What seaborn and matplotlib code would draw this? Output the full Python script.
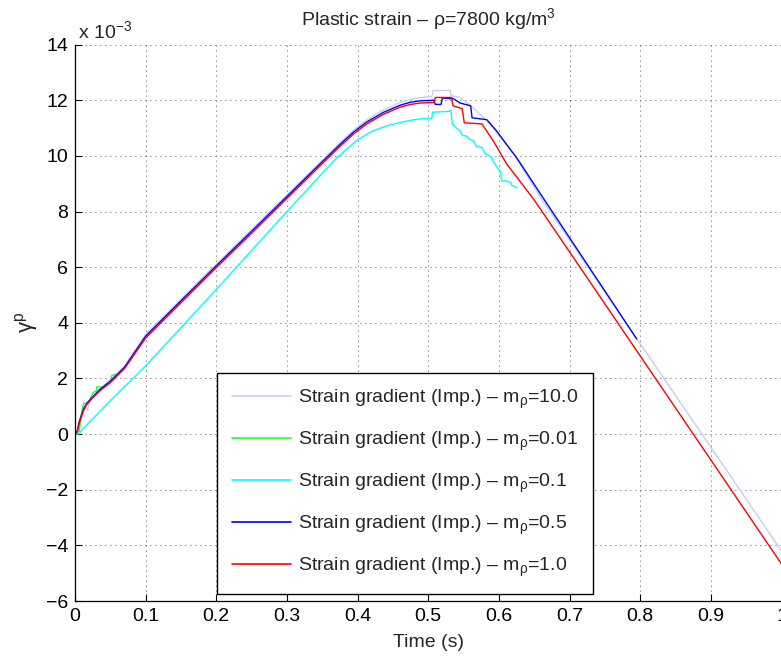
import numpy as np
import pandas as pd
import seaborn as sns
import matplotlib
matplotlib.use("Agg")
import matplotlib.pyplot as plt
from matplotlib.lines import Line2D

# Plastic strain histories (values in units of 1e-3)
t_m10 = [0.0, 0.004, 0.008, 0.013, 0.016, 0.018, 0.02, 0.03, 0.05, 0.07, 0.1, 0.15, 0.2, 0.25,
         0.3, 0.35, 0.375, 0.394, 0.413, 0.437, 0.46, 0.475, 0.489, 0.505, 0.507, 0.531, 0.532,
         0.545, 0.56, 0.583, 0.6, 0.621, 0.659, 0.8, 1.0]
g_m10 = [0.0, 0.1, 0.5, 0.85, 0.95, 0.85, 1.2, 1.5, 1.95, 2.45, 3.58, 4.85, 6.11, 7.35,
         8.6, 9.85, 10.47, 10.92, 11.3, 11.66, 11.92, 12.03, 12.1, 12.13, 12.35, 12.35, 12.17,
         12.1, 11.8, 11.27, 10.75, 10.07, 8.5, 3.25, -4.2]

t_m001 = [0.0, 0.006, 0.009, 0.012, 0.019, 0.022, 0.026, 0.030, 0.031, 0.040, 0.044, 0.050,
          0.052, 0.057]
g_m001 = [0.05, 0.1, 0.7, 1.1, 1.1, 1.3, 1.5, 1.55, 1.7, 1.68, 1.8, 1.86, 2.1, 2.15]

t_m01 = [0.0, 0.005, 0.01, 0.05, 0.1, 0.2, 0.3, 0.37, 0.385, 0.4, 0.42, 0.44, 0.46, 0.475,
         0.489, 0.505, 0.506, 0.53, 0.532, 0.534, 0.54, 0.545, 0.548, 0.555, 0.558, 0.564,
         0.568, 0.576, 0.58, 0.59, 0.592, 0.6, 0.602, 0.604, 0.61, 0.616, 0.618, 0.626]
g_m01 = [0.0, 0.0, 0.15, 1.2, 2.45, 5.2, 8.0, 9.92, 10.25, 10.58, 10.88, 11.07, 11.2, 11.28,
         11.33, 11.35, 11.57, 11.6, 11.65, 11.15, 11.0, 10.9, 10.75, 10.7, 10.6, 10.55,
         10.35, 10.3, 10.1, 9.95, 9.8, 9.5, 9.45, 9.1, 9.1, 9.05, 8.95, 8.85]

t_m05 = [0.0, 0.003, 0.006, 0.012, 0.017, 0.025, 0.035, 0.05, 0.07, 0.1, 0.15, 0.2, 0.25, 0.3,
         0.35, 0.375, 0.394, 0.413, 0.437, 0.46, 0.475, 0.489, 0.508, 0.51, 0.518, 0.52, 0.536,
         0.545, 0.56, 0.562, 0.583, 0.595, 0.626, 0.661, 0.795]
g_m05 = [0.0, 0.1, 0.45, 0.9, 1.12, 1.33, 1.6, 1.9, 2.4, 3.52, 4.79, 6.05, 7.29, 8.54,
         9.79, 10.41, 10.85, 11.22, 11.57, 11.82, 11.93, 11.98, 12.0, 11.85, 11.85, 12.08, 12.05,
         11.9, 11.8, 11.37, 11.3, 10.95, 9.9, 8.55, 3.42]

t_m1 = [0.0, 0.003, 0.006, 0.012, 0.017, 0.025, 0.035, 0.05, 0.07, 0.1, 0.15, 0.2, 0.25, 0.3,
        0.35, 0.375, 0.394, 0.413, 0.437, 0.46, 0.475, 0.489, 0.508, 0.51, 0.533, 0.535, 0.548,
        0.551, 0.576, 0.593, 0.611, 0.649, 0.7, 1.0]
g_m1 = [0.0, 0.05, 0.4, 0.85, 1.08, 1.3, 1.55, 1.85, 2.35, 3.45, 4.72, 5.98, 7.22, 8.47,
        9.72, 10.34, 10.78, 11.15, 11.5, 11.75, 11.85, 11.9, 11.92, 12.1, 12.1, 11.8, 11.7,
        11.19, 11.15, 10.5, 9.71, 8.45, 6.55, -4.67]

labels = [r"Strain gradient (Imp.) – m$_{\rho}$=10.0",
          r"Strain gradient (Imp.) – m$_{\rho}$=0.01",
          r"Strain gradient (Imp.) – m$_{\rho}$=0.1",
          r"Strain gradient (Imp.) – m$_{\rho}$=0.5",
          r"Strain gradient (Imp.) – m$_{\rho}$=1.0"]
colors = ["#C2D0F6", "#22FF22", "#00FFFF", "#0000FF", "#FF0000"]

x_ticks = [0, 0.1, 0.2, 0.3, 0.4, 0.5, 0.6, 0.7, 0.8, 0.9, 1.0]
x_ticklabels = ["0", "0.1", "0.2", "0.3", "0.4", "0.5", "0.6", "0.7", "0.8", "0.9", "1"]
y_ticks = [-6, -4, -2, 0, 2, 4, 6, 8, 10, 12, 14]

series = [(t_m10, g_m10), (t_m001, g_m001), (t_m01, g_m01), (t_m05, g_m05), (t_m1, g_m1)]
frames = []
for lab, (t, g) in zip(labels, series):
    frames.append(pd.DataFrame({"t": t, "g": g, "case": lab}))
df = pd.concat(frames, ignore_index=True)

sns.set_theme(style="white")
plt.rcParams["font.family"] = ["Liberation Sans", "DejaVu Sans"]
plt.rcParams["mathtext.fontset"] = "custom"
plt.rcParams["mathtext.rm"] = "Liberation Sans"
plt.rcParams["mathtext.default"] = "regular"

fs = 14
fig = plt.figure(figsize=(7.81, 6.56), dpi=100)
ax = fig.add_axes([75 / 781, 55 / 656, 706.5 / 781, 556.4 / 656])

sns.lineplot(data=df, x="t", y="g", hue="case", hue_order=labels,
             palette=dict(zip(labels, colors)), estimator=None, sort=False,
             linewidth=1.0, legend=False, ax=ax)

ax.set_xlim(0, 1)
ax.set_ylim(-6, 14)
ax.set_xticks(x_ticks)
ax.set_xticklabels(x_ticklabels)
ax.set_yticks(y_ticks)
ax.tick_params(direction="in", length=5, width=0.8, labelsize=fs, colors="black",
               pad=5, left=True, bottom=True)
ax.grid(True, color="0.1", linewidth=0.6, linestyle=(0, (1, 5)))
for side in ["top", "right"]:
    ax.spines[side].set_visible(False)
for side in ["left", "bottom"]:
    ax.spines[side].set_color("black")
    ax.spines[side].set_linewidth(0.9)

ax.set_xlabel("Time (s)", fontsize=fs)
ax.set_ylabel(r"γ$^{p}$", fontsize=fs + 2)
ax.xaxis.set_label_coords(0.5, -0.06)
ax.yaxis.set_label_coords(-0.05, 0.5)

ax.text(0.5, 1.035, r"Plastic strain – ρ=7800 kg/m$^{3}$", transform=ax.transAxes,
        ha="center", va="baseline", fontsize=fs)
ax.text(0.004, 1.012, r"x 10$^{-3}$", transform=ax.transAxes,
        ha="left", va="baseline", fontsize=fs)

handles = [Line2D([0], [0], color=c, lw=1.2) for c in colors]
leg = ax.legend(handles, labels, loc="upper left",
                bbox_to_anchor=(217 / 781, 1 - 372.5 / 656), bbox_transform=fig.transFigure,
                fontsize=fs, frameon=True, fancybox=False, framealpha=1,
                edgecolor="black", borderpad=0.78, labelspacing=0.97,
                handlelength=3.0, handletextpad=0.36, borderaxespad=0)
leg.get_frame().set_linewidth(1.0)

fig.savefig("out.png", dpi=100)
